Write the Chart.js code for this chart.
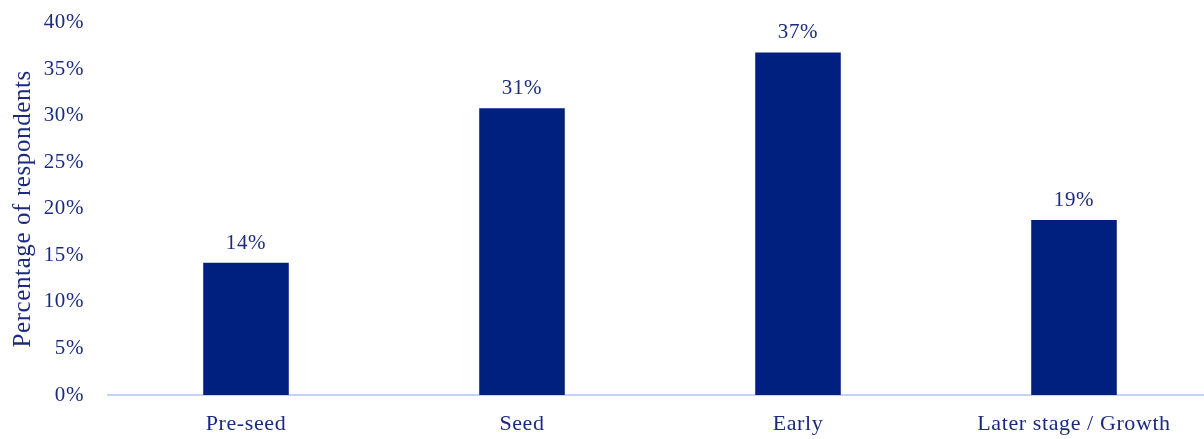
<!DOCTYPE html>
<html>
<head>
<meta charset="utf-8">
<script src="https://cdn.jsdelivr.net/npm/chart.js@4.4.0/dist/chart.umd.min.js"></script>
<style>
  html, body { margin: 0; padding: 0; background: #fff; overflow: hidden; }
  #wrap { position: relative; width: 1212px; height: 453px; margin-top: -14px; }
</style>
</head>
<body>
<div id="wrap"><canvas id="myChart"></canvas></div>
<script>
var stages = ['Pre-seed', 'Seed', 'Early', 'Later stage / Growth'];
var respondents = [14.2, 30.8, 36.8, 18.8];
var valueLabels = ['14%', '31%', '37%', '19%'];

var navy = '#00207F';
var textColor = '#1B2A7E';
var serif = 'Liberation Serif';

// the reference text is a little wider than Liberation Serif
var spacing = {
    id: 'spacing',
    beforeUpdate: function (chart) { chart.ctx.letterSpacing = '0.6px'; },
    beforeDraw: function (chart) { chart.ctx.letterSpacing = '0.6px'; }
};

var barLabels = {
    id: 'barLabels',
    afterDatasetsDraw: function (chart) {
        var ctx = chart.ctx;
        var meta = chart.getDatasetMeta(0);
        ctx.save();
        ctx.font = '21px "' + serif + '"';
        ctx.fillStyle = textColor;
        ctx.textAlign = 'center';
        ctx.textBaseline = 'bottom';
        meta.data.forEach(function (bar, i) {
            ctx.fillText(valueLabels[i], bar.x, bar.y - 9);
        });
        ctx.restore();
    }
};

var ctx = document.getElementById('myChart').getContext('2d');
var myChart = new Chart(ctx, {
    type: 'bar',
    data: {
        labels: stages,
        datasets: [{
            data: respondents,
            backgroundColor: navy,
            barPercentage: 0.31,
            categoryPercentage: 1
        }]
    },
    options: {
        responsive: true,
        maintainAspectRatio: false,
        animation: false,
        layout: { padding: { top: 0, right: 0, bottom: 0, left: 0 } },
        plugins: {
            legend: { display: false },
            tooltip: { enabled: false }
        },
        scales: {
            x: {
                grid: { display: false, drawTicks: false },
                border: { color: '#C3D3F7', width: 2 },
                ticks: {
                    color: textColor,
                    font: { family: serif, size: 22 },
                    padding: 16
                },
                afterFit: function (scale) { scale.height = 44; }
            },
            y: {
                min: 0,
                max: 40,
                grid: { display: false, drawTicks: false },
                border: { display: false },
                ticks: {
                    stepSize: 5,
                    color: textColor,
                    font: { family: serif, size: 21 },
                    padding: 24,
                    callback: function (v) { return v + '%'; }
                },
                title: {
                    display: true,
                    text: 'Percentage of respondents',
                    color: textColor,
                    font: { family: serif, size: 25 },
                    padding: { top: 8, bottom: 0 }
                },
                afterFit: function (scale) { scale.width = 108; }
            }
        }
    },
    plugins: [spacing, barLabels]
});
</script>
</body>
</html>
